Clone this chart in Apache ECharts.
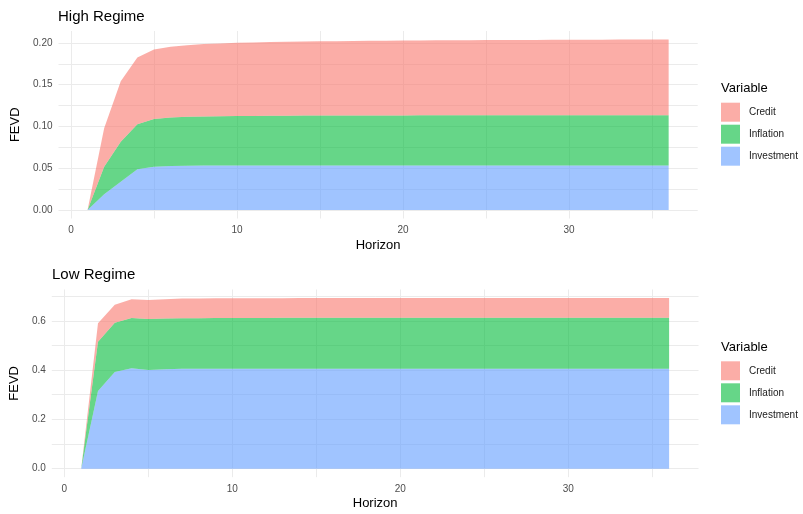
<!DOCTYPE html>
<html>
<head>
<meta charset="utf-8">
<script src="https://cdn.jsdelivr.net/npm/echarts@6/dist/echarts.min.js"></script>
<style>
  html, body { margin: 0; padding: 0; background: #ffffff; }
  #chart { width: 803px; height: 514px; }
</style>
</head>
<body>
<div id="chart"></div>
<script>
// Forecast horizons
const horizons = [1, 2, 3, 4, 5, 6, 7, 8, 9, 10, 11, 12, 13, 14, 15, 16, 17, 18,
  19, 20, 21, 22, 23, 24, 25, 26, 27, 28, 29, 30, 31, 32, 33, 34, 35, 36];

// Variable names, in legend order
const variables = ['Credit', 'Inflation', 'Investment'];

// FEVD shares, high regime
const highInvestment = [0, 0.0188, 0.0339, 0.0486, 0.0518, 0.0526, 0.0530, 0.0531, 0.0532, 0.0532,
  0.0532, 0.0533, 0.0533, 0.0533, 0.0533, 0.0533, 0.0533, 0.0533, 0.0533, 0.0533,
  0.0533, 0.0533, 0.0533, 0.0533, 0.0533, 0.0533, 0.0533, 0.0533, 0.0533, 0.0533,
  0.0533, 0.0533, 0.0533, 0.0533, 0.0533, 0.0533];
const highInflation = [0, 0.0330, 0.0477, 0.0539, 0.0570, 0.0582, 0.0586, 0.0589, 0.0591, 0.0593,
  0.0594, 0.0595, 0.0596, 0.0597, 0.0597, 0.0598, 0.0598, 0.0599, 0.0599, 0.0599,
  0.0600, 0.0600, 0.0600, 0.0600, 0.0601, 0.0601, 0.0601, 0.0601, 0.0601, 0.0602,
  0.0602, 0.0602, 0.0602, 0.0602, 0.0602, 0.0602];
const highCredit = [0, 0.0459, 0.0724, 0.0801, 0.0832, 0.0845, 0.0854, 0.0865, 0.0870, 0.0875,
  0.0878, 0.0881, 0.0884, 0.0886, 0.0888, 0.0889, 0.0891, 0.0892, 0.0893, 0.0895,
  0.0896, 0.0897, 0.0898, 0.0899, 0.0899, 0.0900, 0.0901, 0.0901, 0.0902, 0.0902,
  0.0903, 0.0903, 0.0904, 0.0904, 0.0905, 0.0905];

// FEVD shares, low regime
const lowInvestment = [0, 0.315, 0.392, 0.407, 0.400, 0.403, 0.405, 0.405, 0.405, 0.405,
  0.4055, 0.4055, 0.4055, 0.4056, 0.4056, 0.4056, 0.4056, 0.4056, 0.4057, 0.4057,
  0.4057, 0.4057, 0.4057, 0.4057, 0.4057, 0.4057, 0.4057, 0.4057, 0.4057, 0.4057,
  0.4057, 0.4057, 0.4057, 0.4057, 0.4057, 0.4057];
const lowInflation = [0, 0.200, 0.200, 0.204, 0.207, 0.206, 0.205, 0.2055, 0.206, 0.206,
  0.2062, 0.2063, 0.2064, 0.2065, 0.2065, 0.2066, 0.2066, 0.2067, 0.2067, 0.2067,
  0.2068, 0.2068, 0.2069, 0.2069, 0.2069, 0.2069, 0.2069, 0.2069, 0.2069, 0.2069,
  0.2069, 0.2069, 0.2069, 0.2069, 0.2069, 0.2069];
const lowCredit = [0, 0.075, 0.073, 0.076, 0.077, 0.078, 0.080, 0.0801, 0.0800, 0.0800,
  0.0800, 0.0800, 0.0800, 0.0800, 0.0800, 0.0799, 0.0799, 0.0799, 0.0799, 0.0799,
  0.0799, 0.0799, 0.0799, 0.0799, 0.0799, 0.0799, 0.0799, 0.0799, 0.0799, 0.0799,
  0.0799, 0.0799, 0.0799, 0.0799, 0.0799, 0.0799];

// Axis ticks
const xTickLabels = [0, 10, 20, 30];
const xGridValues = [0, 5, 10, 15, 20, 25, 30, 35];
const highTickLabels = [0, 0.05, 0.10, 0.15, 0.20];
const highGridValues = [0, 0.025, 0.05, 0.075, 0.10, 0.125, 0.15, 0.175, 0.20];
const lowTickLabels = [0, 0.2, 0.4, 0.6];
const lowGridValues = [0, 0.1, 0.2, 0.3, 0.4, 0.5, 0.6, 0.7];

const FONT = '"Liberation Sans", Arial, sans-serif';
const fills = {
  Credit: 'rgba(248,118,109,0.6)',
  Inflation: 'rgba(0,186,56,0.6)',
  Investment: 'rgba(97,156,255,0.6)'
};
const gridLine = { color: '#EBEBEB', width: 1 };

const panels = [
  {
    title: 'High Regime',
    series: { Investment: highInvestment, Inflation: highInflation, Credit: highCredit },
    yLabels: highTickLabels, yGrid: highGridValues, digits: 2,
    yMin: -0.0102, yMax: 0.2142,
    grid: { left: 58.5, right: 105.3, top: 31, height: 187.5 },
    titlePos: { left: 58, top: 9 },
    legendTop: 102.7, legendTitleTop: 82,
    yNameGap: 34
  },
  {
    title: 'Low Regime',
    series: { Investment: lowInvestment, Inflation: lowInflation, Credit: lowCredit },
    yLabels: lowTickLabels, yGrid: lowGridValues, digits: 1,
    yMin: -0.0346, yMax: 0.727,
    grid: { left: 51.7, right: 104.5, top: 289.5, height: 187.7 },
    titlePos: { left: 52, top: 267 },
    legendTop: 361.3, legendTitleTop: 340.6,
    yNameGap: 27
  }
];

const option = {
  backgroundColor: '#ffffff',
  animation: false,
  title: [],
  legend: [],
  grid: [],
  xAxis: [],
  yAxis: [],
  series: []
};

// One filled band per variable: [horizon, lower, upper], stacked bottom-up
function bandSeries(name, panelIndex, lower, upper) {
  return {
    name: name, type: 'custom', coordinateSystem: 'cartesian2d',
    xAxisIndex: panelIndex, yAxisIndex: panelIndex,
    itemStyle: { color: fills[name] },
    silent: true,
    encode: { x: 0, y: [1, 2] },
    data: horizons.map((h, k) => [h, lower[k], upper[k]]),
    renderItem: function (params, api) {
      if (params.dataIndex !== 0) return null;
      const pts = [];
      for (let k = 0; k < horizons.length; k++) pts.push(api.coord([horizons[k], upper[k]]));
      for (let k = horizons.length - 1; k >= 0; k--) pts.push(api.coord([horizons[k], lower[k]]));
      return { type: 'polygon', shape: { points: pts }, style: { fill: fills[name] } };
    }
  };
}

panels.forEach((p, i) => {
  option.title.push({
    text: p.title, left: p.titlePos.left, top: p.titlePos.top, padding: 0,
    textStyle: { fontFamily: FONT, fontSize: 15, fontWeight: 'normal', color: '#000000' }
  });
  option.title.push({
    text: 'Variable', left: 721, top: p.legendTitleTop, padding: 0,
    textStyle: { fontFamily: FONT, fontSize: 13, fontWeight: 'normal', color: '#000000' }
  });
  option.legend.push({
    orient: 'vertical', left: 721, top: p.legendTop, padding: 0,
    itemWidth: 19, itemHeight: 19, itemGap: 3, icon: 'rect',
    selectedMode: false,
    data: variables.map(v => ({ name: v, itemStyle: { color: fills[v] } })),
    textStyle: { fontFamily: FONT, fontSize: 10, color: '#1A1A1A', padding: [0, 0, 0, 4] }
  });
  option.grid.push(Object.assign({ containLabel: false }, p.grid));
  option.xAxis.push({
    type: 'value', gridIndex: i, min: -0.75, max: 37.75,
    name: 'Horizon', nameLocation: 'middle', nameGap: 20,
    nameTextStyle: { fontFamily: FONT, fontSize: 13, color: '#000000' },
    axisLine: { show: false },
    axisTick: { show: false, customValues: xGridValues },
    axisLabel: { customValues: xTickLabels, fontFamily: FONT, fontSize: 10, color: '#4D4D4D', margin: 7 },
    splitLine: { show: true, lineStyle: gridLine }
  });
  option.yAxis.push({
    type: 'value', gridIndex: i, min: p.yMin, max: p.yMax,
    name: 'FEVD', nameLocation: 'middle', nameGap: p.yNameGap, nameRotate: 90,
    nameTextStyle: { fontFamily: FONT, fontSize: 13, color: '#000000' },
    axisLine: { show: false },
    axisTick: { show: false, customValues: p.yGrid },
    axisLabel: {
      customValues: p.yLabels, fontFamily: FONT, fontSize: 10, color: '#4D4D4D', margin: 6,
      formatter: v => Number(v).toFixed(p.digits)
    },
    splitLine: { show: true, lineStyle: gridLine }
  });
  // Investment at the bottom, then Inflation, then Credit on top
  let lower = horizons.map(() => 0);
  ['Investment', 'Inflation', 'Credit'].forEach(v => {
    const upper = lower.map((b, k) => b + p.series[v][k]);
    option.series.push(bandSeries(v, i, lower, upper));
    lower = upper;
  });
});

const chart = echarts.init(document.getElementById('chart'), null, { renderer: 'canvas' });
chart.setOption(option);
</script>
</body>
</html>
